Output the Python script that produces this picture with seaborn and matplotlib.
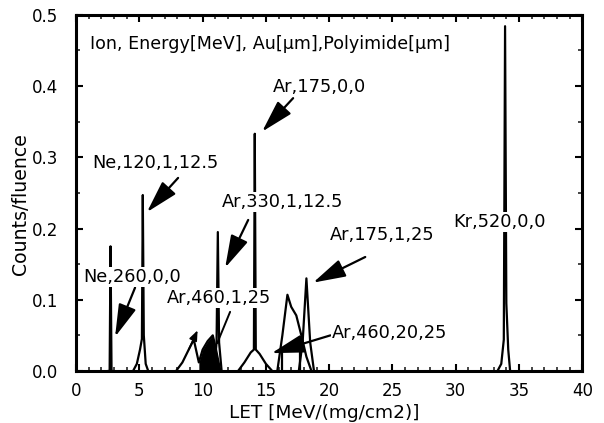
import numpy as np
import pandas as pd
import matplotlib
matplotlib.use("Agg")
import matplotlib.pyplot as plt
import seaborn as sns
from matplotlib.ticker import MultipleLocator

sns.set_theme(style="white")
plt.rcParams["font.family"] = ["DejaVu Sans"]

# LET spectra (Counts/fluence vs LET) for each beam condition
ne260_x = [2.5, 2.65, 2.72, 2.8, 2.95]
ne260_y = [0.0, 0.0, 0.175, 0.0, 0.0]

ne120_x = [4.5, 4.8, 5.05, 5.2, 5.27, 5.35, 5.5, 5.7]
ne120_y = [0.0, 0.01, 0.03, 0.045, 0.247, 0.05, 0.01, 0.0]

ar460a_x = [7.9, 8.4, 8.9, 9.3, 9.7, 10.0, 10.4, 10.8, 11.0, 11.4]
ar460a_y = [0.0, 0.012, 0.03, 0.044, 0.012, 0.03, 0.042, 0.05, 0.035, 0.0]

ar330_x = [10.9, 11.1, 11.2, 11.3, 11.5]
ar330_y = [0.0, 0.04, 0.195, 0.04, 0.0]

ar175_x = [12.8, 13.3, 13.8, 14.05, 14.12, 14.2, 14.5, 15.0, 15.5]
ar175_y = [0.0, 0.012, 0.026, 0.03, 0.333, 0.03, 0.024, 0.01, 0.0]

ar460b_x = [15.9, 16.3, 16.7, 17.0, 17.4, 17.8, 18.2, 18.6]
ar460b_y = [0.0, 0.05, 0.107, 0.09, 0.078, 0.05, 0.02, 0.0]

ar460c_x = [16.3, 16.3, 17.7, 17.7]
ar460c_y = [0.0, 0.03, 0.03, 0.0]

ar175b_x = [17.6, 17.9, 18.2, 18.5, 18.8]
ar175b_y = [0.0, 0.04, 0.13, 0.04, 0.0]

kr520_x = [33.3, 33.6, 33.8, 33.9, 34.0, 34.15, 34.3]
kr520_y = [0.0, 0.01, 0.044, 0.484, 0.095, 0.03, 0.0]

series = {
    "Ne,260,0,0": (ne260_x, ne260_y),
    "Ne,120,1,12.5": (ne120_x, ne120_y),
    "Ar,460,1,25": (ar460a_x, ar460a_y),
    "Ar,330,1,12.5": (ar330_x, ar330_y),
    "Ar,175,0,0": (ar175_x, ar175_y),
    "Ar,460,20,25": (ar460b_x, ar460b_y),
    "Ar,460,20,25 flat": (ar460c_x, ar460c_y),
    "Ar,175,1,25": (ar175b_x, ar175b_y),
    "Kr,520,0,0": (kr520_x, kr520_y),
}

frames = []
for name, (xs, ys) in series.items():
    frames.append(pd.DataFrame({"LET": xs, "counts": ys, "beam": name}))
df = pd.concat(frames, ignore_index=True)

fig = plt.figure(figsize=(6.04, 4.23), dpi=100)
ax = fig.add_axes([0.126, 0.123, 0.838, 0.842])

sns.lineplot(data=df, x="LET", y="counts", units="beam", estimator=None,
             sort=False, color="black", lw=1.6, ax=ax, legend=False)

# darker filled body of the Ar,460,1,25 spectrum
fill = df[df["beam"] == "Ar,460,1,25"]
fill = fill[fill["LET"] >= 9.7]
ax.fill_between(fill["LET"], 0, fill["counts"], color="black", lw=0)

ax.set_xlim(0, 40)
ax.set_ylim(0, 0.5)
ax.xaxis.set_minor_locator(MultipleLocator(1))
ax.yaxis.set_minor_locator(MultipleLocator(0.05))
ax.set_xticks(range(0, 41, 5))
ax.set_xticklabels([str(v) for v in range(0, 41, 5)])
ax.set_yticks([0.0, 0.1, 0.2, 0.3, 0.4, 0.5])
ax.set_yticklabels(["0.0", "0.1", "0.2", "0.3", "0.4", "0.5"])
ax.tick_params(which="major", direction="in", length=5, width=1.5,
               top=True, right=True, bottom=True, left=True,
               labelsize=12, colors="black")
ax.tick_params(axis="x", which="major", pad=8)
ax.tick_params(axis="y", which="major", pad=13)
ax.tick_params(which="minor", direction="in", length=3, width=1.2,
               top=True, right=True, bottom=True, left=True)
for s in ax.spines.values():
    s.set_visible(True)
    s.set_color("black")
    s.set_linewidth(2.2)

ax.set_xlabel("LET [MeV/(mg/cm2)]", fontsize=13.3, color="black")
ax.set_ylabel("Counts/fluence", fontsize=13.6, color="black")
ax.xaxis.set_label_coords(0.491, -0.119)
ax.xaxis.label.set_va("center")
ax.yaxis.set_label_coords(-0.109, 0.469)
ax.yaxis.label.set_va("center")

ax.text(1.1, 0.459, "Ion, Energy[MeV], Au[\u03bcm],Polyimide[\u03bcm]",
        fontsize=12.6, va="center", ha="left", color="black")

arrow = dict(arrowstyle="-|>,head_length=1.0,head_width=0.28",
             mutation_scale=20, lw=1.6, color="black", shrinkA=0, shrinkB=0)
box = dict(boxstyle="square,pad=0.05", fc="white", ec="none")

labels = [
    # text, text pos, arrow tail, arrow head
    ("Ar,175,0,0", (15.57, 0.399), (17.15, 0.383), (14.7, 0.336)),
    ("Ne,120,1,12.5", (1.26, 0.292), (8.06, 0.271), (5.6, 0.223)),
    ("Ar,330,1,12.5", (11.54, 0.237), (13.6, 0.212), (11.78, 0.145)),
    ("Ne,260,0,0", (0.55, 0.132), (4.66, 0.117), (3.08, 0.048)),
    ("Ar,175,1,25", (20.08, 0.191), (22.85, 0.160), (18.73, 0.124)),
    ("Ar,460,20,25", (20.24, 0.053), (20.1, 0.05), (15.45, 0.025)),
]
for text, tpos, tail, head in labels:
    ax.annotate("", xy=head, xytext=tail, arrowprops=arrow)
    ax.text(tpos[0], tpos[1], text, fontsize=12.8, va="center", ha="left",
            color="black", bbox=box, zorder=5)

# thin leader for Ar,460,1,25 and the small arrow on its rising edge
ax.text(7.2, 0.102, "Ar,460,1,25", fontsize=12.8, va="center", ha="left",
        color="black", bbox=box, zorder=5)
ax.plot([12.17, 11.15], [0.083, 0.039], color="black", lw=1.4)
ax.annotate("", xy=(9.6, 0.057), xytext=(8.9, 0.03),
            arrowprops=dict(arrowstyle="-|>,head_length=0.5,head_width=0.2",
                            mutation_scale=12, lw=1.2, color="black",
                            shrinkA=0, shrinkB=0))

ax.text(29.8, 0.209, "Kr,520,0,0", fontsize=12.8, va="center", ha="left",
        color="black", bbox=box, zorder=5)

fig.savefig("out.png", dpi=100, facecolor="white")
